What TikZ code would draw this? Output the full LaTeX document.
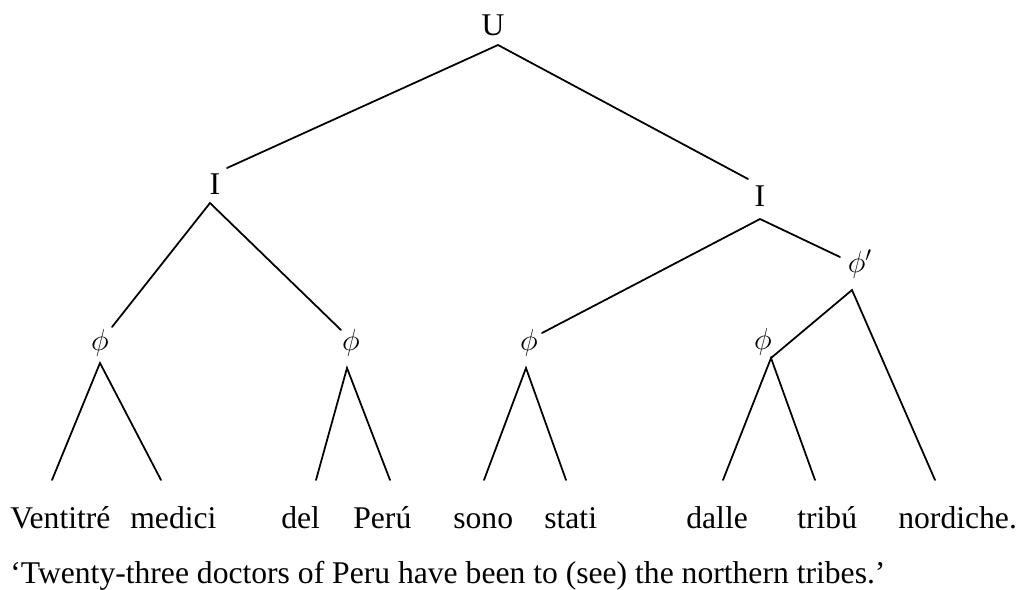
\documentclass[tikz,border=0pt]{standalone}
\usepackage{fontspec}
\setmainfont{Liberation Serif}
\usetikzlibrary{positioning}

\begin{document}
\begin{tikzpicture}[x=0.02cm, y=-0.02cm,
    cat/.style={inner sep=0pt, font=\fontsize{18}{21}\selectfont},
    word/.style={anchor=base west, inner sep=0pt, font=\fontsize{18}{21}\selectfont},
    branch/.style={line width=1pt, line cap=round}]

    \useasboundingbox (0,0) rectangle (1016,589);

    \node [cat] (U) at (493,25) {U};
    \node [cat] (I1) at (215,184) {I};
    \node [cat] (I2) at (760,196) {I};
    \node [cat] (phiP) at (860,264) {$\phi'$};
    \node [cat] (phi1) at (100,343) {$\phi$};
    \node [cat] (phi2) at (351,343) {$\phi$};
    \node [cat] (phi3) at (529,343) {$\phi$};
    \node [cat] (phi4) at (763,342) {$\phi$};

    \coordinate (U-a) at (498,45);
    \coordinate (I1-in) at (227,168);
    \coordinate (I1-a) at (210,203);
    \coordinate (I2-in) at (748,179);
    \coordinate (I2-a) at (760,219);
    \coordinate (phiP-in) at (840,257);
    \coordinate (phiP-a) at (852,290);
    \coordinate (phi1-in) at (112,327);
    \coordinate (phi1-a) at (100,363);
    \coordinate (phi2-in) at (341,330);
    \coordinate (phi2-a) at (347,368);
    \coordinate (phi3-in) at (542,333);
    \coordinate (phi3-a) at (526,368);
    \coordinate (phi4-a) at (771,358);

    \coordinate (l1) at (52,480);
    \coordinate (l2) at (161,480);
    \coordinate (l3) at (316,480);
    \coordinate (l4) at (390,480);
    \coordinate (l5) at (484,480);
    \coordinate (l6) at (566,480);
    \coordinate (l7) at (723,480);
    \coordinate (l8) at (815,480);
    \coordinate (l9) at (935,480);

    \draw [branch] (I1-in) -- (U-a) -- (I2-in);
    \draw [branch] (phi1-in) -- (I1-a) -- (phi2-in);
    \draw [branch] (phi3-in) -- (I2-a) -- (phiP-in);
    \draw [branch] (phi4-a) -- (phiP-a) -- (l9);
    \draw [branch] (l1) -- (phi1-a) -- (l2);
    \draw [branch] (l3) -- (phi2-a) -- (l4);
    \draw [branch] (l5) -- (phi3-a) -- (l6);
    \draw [branch] (l7) -- (phi4-a) -- (l8);

    \node [word] (w1) at (10,528) {Ventitré};
    \node [word] (w2) at (130,528) {medici};
    \node [word] (w3) at (281,528) {del};
    \node [word] (w4) at (353,528) {Perú};
    \node [word] (w5) at (453,528) {sono};
    \node [word] (w6) at (544,528) {stati};
    \node [word] (w7) at (686,528) {dalle};
    \node [word] (w8) at (797,528) {tribú};
    \node [word] (w9) at (898,528) {nordiche.};
    \node [word] (gloss) at (10,583) {‘Twenty-three doctors of Peru have been to (see) the northern tribes.’};
\end{tikzpicture}
\end{document}
